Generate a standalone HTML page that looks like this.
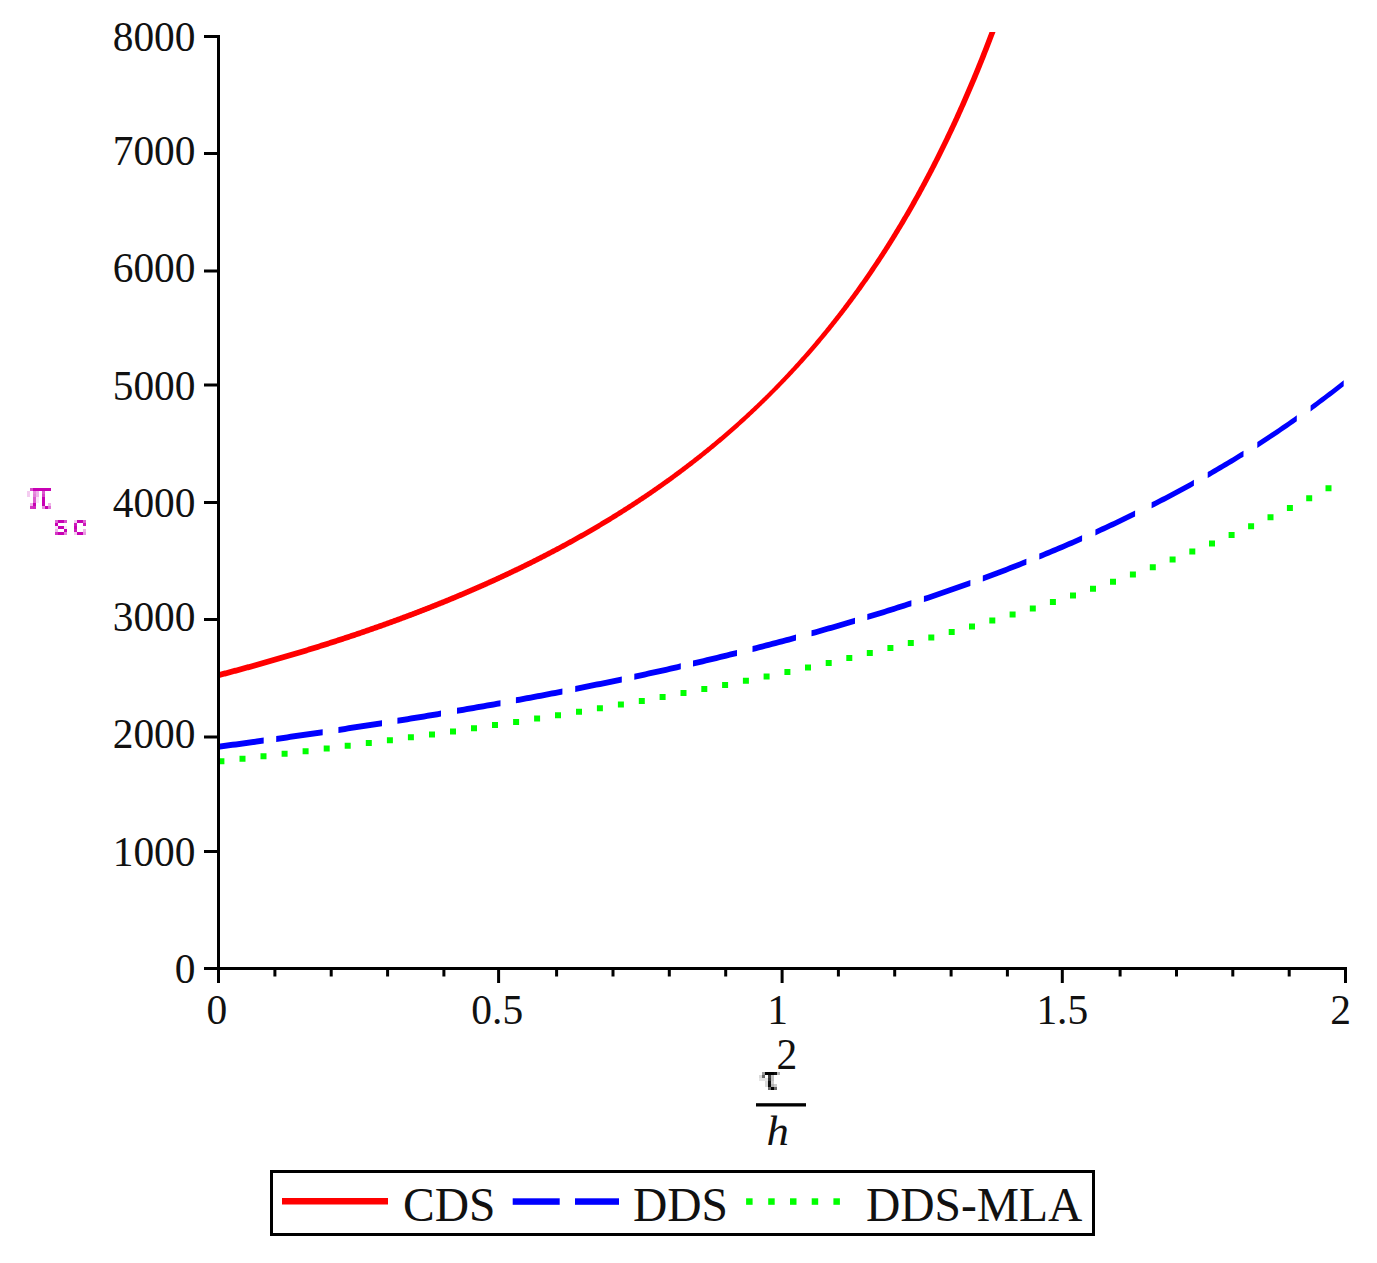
<!DOCTYPE html>
<html><head><meta charset="utf-8"><title>plot</title>
<style>html,body{margin:0;padding:0;background:#fff;width:1377px;height:1263px;overflow:hidden}svg{display:block}</style>
</head><body>
<svg width="1377" height="1263" viewBox="0 0 1377 1263">
<rect x="0" y="0" width="1377" height="1263" fill="#fff"/>
<path d="M218.50,672.19 L219.36,671.96 L220.22,671.74 L221.08,671.51 L221.94,671.29 L222.80,671.06 L223.67,670.83 L224.53,670.61 L225.39,670.38 L226.25,670.15 L227.11,669.93 L227.97,669.70 L228.83,669.47 L229.69,669.24 L230.55,669.01 L231.41,668.78 L232.28,668.56 L233.14,668.33 L234.00,668.10 L234.86,667.86 L235.72,667.63 L236.58,667.40 L237.44,667.17 L238.30,666.94 L239.16,666.71 L240.02,666.47 L240.88,666.24 L241.75,666.01 L242.61,665.77 L243.47,665.54 L244.33,665.30 L245.19,665.07 L246.05,664.83 L246.91,664.60 L247.77,664.36 L248.63,664.13 L249.49,663.89 L250.35,663.65 L251.22,663.42 L252.08,663.18 L252.94,662.94 L253.80,662.70 L254.66,662.46 L255.52,662.22 L256.38,661.98 L257.24,661.74 L258.10,661.50 L258.96,661.26 L259.83,661.02 L260.69,660.78 L261.55,660.54 L262.41,660.29 L263.27,660.05 L264.13,659.81 L264.99,659.56 L265.85,659.32 L266.71,659.08 L267.57,658.83 L268.43,658.59 L269.30,658.34 L270.16,658.09 L271.02,657.85 L271.88,657.60 L272.74,657.35 L273.60,657.11 L274.46,656.86 L275.32,656.61 L276.18,656.36 L277.04,656.11 L277.90,655.86 L278.77,655.61 L279.63,655.36 L280.49,655.11 L281.35,654.86 L282.21,654.61 L283.07,654.36 L283.93,654.11 L284.79,653.85 L285.65,653.60 L286.51,653.35 L287.38,653.09 L288.24,652.84 L289.10,652.58 L289.96,652.33 L290.82,652.07 L291.68,651.82 L292.54,651.56 L293.40,651.30 L294.26,651.04 L295.12,650.79 L295.98,650.53 L296.85,650.27 L297.71,650.01 L298.57,649.75 L299.43,649.49 L300.29,649.23 L301.15,648.97 L302.01,648.71 L302.87,648.45 L303.73,648.19 L304.59,647.92 L305.46,647.66 L306.32,647.40 L307.18,647.13 L308.04,646.87 L308.90,646.60 L309.76,646.34 L310.62,646.07 L311.48,645.81 L312.34,645.54 L313.20,645.27 L314.06,645.01 L314.93,644.74 L315.79,644.47 L316.65,644.20 L317.51,643.93 L318.37,643.66 L319.23,643.39 L320.09,643.12 L320.95,642.85 L321.81,642.58 L322.67,642.31 L323.53,642.04 L324.40,641.76 L325.26,641.49 L326.12,641.22 L326.98,640.94 L327.84,640.67 L328.70,640.39 L329.56,640.12 L330.42,639.84 L331.28,639.57 L332.14,639.29 L333.01,639.01 L333.87,638.73 L334.73,638.46 L335.59,638.18 L336.45,637.90 L337.31,637.62 L338.17,637.34 L339.03,637.06 L339.89,636.78 L340.75,636.49 L341.61,636.21 L342.48,635.93 L343.34,635.65 L344.20,635.36 L345.06,635.08 L345.92,634.79 L346.78,634.51 L347.64,634.22 L348.50,633.94 L349.36,633.65 L350.22,633.36 L351.08,633.08 L351.95,632.79 L352.81,632.50 L353.67,632.21 L354.53,631.92 L355.39,631.63 L356.25,631.34 L357.11,631.05 L357.97,630.76 L358.83,630.46 L359.69,630.17 L360.56,629.88 L361.42,629.59 L362.28,629.29 L363.14,629.00 L364.00,628.70 L364.86,628.41 L365.72,628.11 L366.58,627.81 L367.44,627.52 L368.30,627.22 L369.16,626.92 L370.03,626.62 L370.89,626.32 L371.75,626.02 L372.61,625.72 L373.47,625.42 L374.33,625.12 L375.19,624.82 L376.05,624.51 L376.91,624.21 L377.77,623.91 L378.64,623.60 L379.50,623.30 L380.36,622.99 L381.22,622.69 L382.08,622.38 L382.94,622.07 L383.80,621.77 L384.66,621.46 L385.52,621.15 L386.38,620.84 L387.24,620.53 L388.11,620.22 L388.97,619.91 L389.83,619.60 L390.69,619.29 L391.55,618.97 L392.41,618.66 L393.27,618.35 L394.13,618.03 L394.99,617.72 L395.85,617.40 L396.71,617.09 L397.58,616.77 L398.44,616.45 L399.30,616.14 L400.16,615.82 L401.02,615.50 L401.88,615.18 L402.74,614.86 L403.60,614.54 L404.46,614.22 L405.32,613.90 L406.19,613.57 L407.05,613.25 L407.91,612.93 L408.77,612.60 L409.63,612.28 L410.49,611.95 L411.35,611.63 L412.21,611.30 L413.07,610.97 L413.93,610.65 L414.79,610.32 L415.66,609.99 L416.52,609.66 L417.38,609.33 L418.24,609.00 L419.10,608.67 L419.96,608.34 L420.82,608.00 L421.68,607.67 L422.54,607.34 L423.40,607.00 L424.26,606.67 L425.13,606.33 L425.99,606.00 L426.85,605.66 L427.71,605.32 L428.57,604.98 L429.43,604.64 L430.29,604.30 L431.15,603.96 L432.01,603.62 L432.87,603.28 L433.74,602.94 L434.60,602.60 L435.46,602.25 L436.32,601.91 L437.18,601.57 L438.04,601.22 L438.90,600.87 L439.76,600.53 L440.62,600.18 L441.48,599.83 L442.34,599.48 L443.21,599.13 L444.07,598.78 L444.93,598.43 L445.79,598.08 L446.65,597.73 L447.51,597.38 L448.37,597.02 L449.23,596.67 L450.09,596.32 L450.95,595.96 L451.82,595.60 L452.68,595.25 L453.54,594.89 L454.40,594.53 L455.26,594.17 L456.12,593.81 L456.98,593.45 L457.84,593.09 L458.70,592.73 L459.56,592.37 L460.42,592.01 L461.29,591.64 L462.15,591.28 L463.01,590.91 L463.87,590.55 L464.73,590.18 L465.59,589.81 L466.45,589.45 L467.31,589.08 L468.17,588.71 L469.03,588.34 L469.89,587.97 L470.76,587.60 L471.62,587.22 L472.48,586.85 L473.34,586.48 L474.20,586.10 L475.06,585.73 L475.92,585.35 L476.78,584.97 L477.64,584.60 L478.50,584.22 L479.37,583.84 L480.23,583.46 L481.09,583.08 L481.95,582.70 L482.81,582.31 L483.67,581.93 L484.53,581.55 L485.39,581.16 L486.25,580.78 L487.11,580.39 L487.97,580.01 L488.84,579.62 L489.70,579.23 L490.56,578.84 L491.42,578.45 L492.28,578.06 L493.14,577.67 L494.00,577.28 L494.86,576.89 L495.72,576.49 L496.58,576.10 L497.44,575.70 L498.31,575.31 L499.17,574.91 L500.03,574.51 L500.89,574.11 L501.75,573.71 L502.61,573.31 L503.47,572.91 L504.33,572.51 L505.19,572.11 L506.05,571.70 L506.92,571.30 L507.78,570.89 L508.64,570.49 L509.50,570.08 L510.36,569.67 L511.22,569.26 L512.08,568.86 L512.94,568.45 L513.80,568.03 L514.66,567.62 L515.52,567.21 L516.39,566.80 L517.25,566.38 L518.11,565.97 L518.97,565.55 L519.83,565.13 L520.69,564.72 L521.55,564.30 L522.41,563.88 L523.27,563.46 L524.13,563.03 L525.00,562.61 L525.86,562.19 L526.72,561.77 L527.58,561.34 L528.44,560.91 L529.30,560.49 L530.16,560.06 L531.02,559.63 L531.88,559.20 L532.74,558.77 L533.60,558.34 L534.47,557.91 L535.33,557.47 L536.19,557.04 L537.05,556.61 L537.91,556.17 L538.77,555.73 L539.63,555.29 L540.49,554.86 L541.35,554.42 L542.21,553.98 L543.07,553.53 L543.94,553.09 L544.80,552.65 L545.66,552.20 L546.52,551.76 L547.38,551.31 L548.24,550.86 L549.10,550.42 L549.96,549.97 L550.82,549.52 L551.68,549.07 L552.55,548.61 L553.41,548.16 L554.27,547.71 L555.13,547.25 L555.99,546.80 L556.85,546.34 L557.71,545.88 L558.57,545.42 L559.43,544.96 L560.29,544.50 L561.15,544.04 L562.02,543.57 L562.88,543.11 L563.74,542.64 L564.60,542.18 L565.46,541.71 L566.32,541.24 L567.18,540.77 L568.04,540.30 L568.90,539.83 L569.76,539.36 L570.62,538.89 L571.49,538.41 L572.35,537.94 L573.21,537.46 L574.07,536.98 L574.93,536.50 L575.79,536.02 L576.65,535.54 L577.51,535.06 L578.37,534.58 L579.23,534.09 L580.10,533.61 L580.96,533.12 L581.82,532.63 L582.68,532.14 L583.54,531.66 L584.40,531.16 L585.26,530.67 L586.12,530.18 L586.98,529.69 L587.84,529.19 L588.70,528.69 L589.57,528.20 L590.43,527.70 L591.29,527.20 L592.15,526.70 L593.01,526.19 L593.87,525.69 L594.73,525.19 L595.59,524.68 L596.45,524.17 L597.31,523.67 L598.18,523.16 L599.04,522.65 L599.90,522.14 L600.76,521.62 L601.62,521.11 L602.48,520.60 L603.34,520.08 L604.20,519.56 L605.06,519.04 L605.92,518.52 L606.78,518.00 L607.65,517.48 L608.51,516.96 L609.37,516.43 L610.23,515.91 L611.09,515.38 L611.95,514.85 L612.81,514.32 L613.67,513.79 L614.53,513.26 L615.39,512.73 L616.25,512.19 L617.12,511.65 L617.98,511.12 L618.84,510.58 L619.70,510.04 L620.56,509.50 L621.42,508.96 L622.28,508.41 L623.14,507.87 L624.00,507.32 L624.86,506.77 L625.73,506.23 L626.59,505.68 L627.45,505.12 L628.31,504.57 L629.17,504.02 L630.03,503.46 L630.89,502.91 L631.75,502.35 L632.61,501.79 L633.47,501.23 L634.33,500.67 L635.20,500.10 L636.06,499.54 L636.92,498.97 L637.78,498.40 L638.64,497.83 L639.50,497.26 L640.36,496.69 L641.22,496.12 L642.08,495.54 L642.94,494.97 L643.80,494.39 L644.67,493.81 L645.53,493.23 L646.39,492.65 L647.25,492.07 L648.11,491.48 L648.97,490.90 L649.83,490.31 L650.69,489.72 L651.55,489.13 L652.41,488.54 L653.28,487.95 L654.14,487.35 L655.00,486.75 L655.86,486.16 L656.72,485.56 L657.58,484.96 L658.44,484.35 L659.30,483.75 L660.16,483.15 L661.02,482.54 L661.88,481.93 L662.75,481.32 L663.61,480.71 L664.47,480.10 L665.33,479.48 L666.19,478.87 L667.05,478.25 L667.91,477.63 L668.77,477.01 L669.63,476.39 L670.49,475.76 L671.36,475.14 L672.22,474.51 L673.08,473.88 L673.94,473.25 L674.80,472.62 L675.66,471.99 L676.52,471.35 L677.38,470.71 L678.24,470.08 L679.10,469.44 L679.96,468.79 L680.83,468.15 L681.69,467.50 L682.55,466.86 L683.41,466.21 L684.27,465.56 L685.13,464.91 L685.99,464.25 L686.85,463.60 L687.71,462.94 L688.57,462.28 L689.43,461.62 L690.30,460.96 L691.16,460.30 L692.02,459.63 L692.88,458.96 L693.74,458.29 L694.60,457.62 L695.46,456.95 L696.32,456.28 L697.18,455.60 L698.04,454.92 L698.91,454.24 L699.77,453.56 L700.63,452.88 L701.49,452.19 L702.35,451.50 L703.21,450.82 L704.07,450.12 L704.93,449.43 L705.79,448.74 L706.65,448.04 L707.51,447.34 L708.38,446.64 L709.24,445.94 L710.10,445.24 L710.96,444.53 L711.82,443.82 L712.68,443.11 L713.54,442.40 L714.40,441.69 L715.26,440.97 L716.12,440.25 L716.98,439.53 L717.85,438.81 L718.71,438.09 L719.57,437.36 L720.43,436.64 L721.29,435.91 L722.15,435.18 L723.01,434.44 L723.87,433.71 L724.73,432.97 L725.59,432.23 L726.46,431.49 L727.32,430.74 L728.18,430.00 L729.04,429.25 L729.90,428.50 L730.76,427.75 L731.62,426.99 L732.48,426.24 L733.34,425.48 L734.20,424.72 L735.06,423.96 L735.93,423.19 L736.79,422.42 L737.65,421.65 L738.51,420.88 L739.37,420.11 L740.23,419.33 L741.09,418.55 L741.95,417.77 L742.81,416.99 L743.67,416.21 L744.53,415.42 L745.40,414.63 L746.26,413.84 L747.12,413.05 L747.98,412.25 L748.84,411.45 L749.70,410.65 L750.56,409.85 L751.42,409.04 L752.28,408.23 L753.14,407.42 L754.01,406.61 L754.87,405.80 L755.73,404.98 L756.59,404.16 L757.45,403.34 L758.31,402.51 L759.17,401.69 L760.03,400.86 L760.89,400.03 L761.75,399.19 L762.61,398.36 L763.48,397.52 L764.34,396.68 L765.20,395.83 L766.06,394.99 L766.92,394.14 L767.78,393.29 L768.64,392.43 L769.50,391.57 L770.36,390.72 L768.22,392.85 L769.09,391.99 L769.95,391.12 L770.81,390.25 L771.67,389.38 L772.53,388.51 L773.39,387.63 L774.25,386.75 L775.11,385.87 L775.97,384.98 L776.83,384.09 L777.69,383.20 L778.56,382.31 L779.42,381.41 L780.28,380.51 L781.14,379.61 L782.00,378.71 L782.86,377.80 L783.72,376.89 L784.58,375.97 L785.44,375.06 L786.30,374.14 L787.16,373.22 L788.03,372.29 L788.89,371.37 L789.75,370.44 L790.61,369.50 L791.47,368.57 L792.33,367.63 L793.19,366.69 L794.05,365.74 L794.91,364.79 L795.77,363.84 L796.64,362.89 L797.50,361.93 L798.36,360.97 L799.22,360.01 L800.08,359.04 L800.94,358.08 L801.80,357.10 L802.66,356.13 L803.52,355.15 L804.38,354.17 L805.24,353.18 L806.11,352.20 L806.97,351.21 L807.83,350.21 L808.69,349.21 L809.55,348.21 L810.41,347.21 L811.27,346.20 L812.13,345.19 L812.99,344.18 L813.85,343.16 L814.71,342.14 L815.58,341.12 L816.44,340.09 L817.30,339.06 L818.16,338.03 L819.02,336.99 L819.88,335.95 L820.74,334.91 L821.60,333.86 L822.46,332.81 L823.32,331.75 L824.19,330.70 L825.05,329.64 L825.91,328.57 L826.77,327.50 L827.63,326.43 L828.49,325.35 L829.35,324.28 L830.21,323.19 L831.07,322.11 L831.93,321.02 L832.79,319.92 L833.66,318.82 L834.52,317.72 L835.38,316.62 L836.24,315.51 L837.10,314.40 L837.96,313.28 L838.82,312.16 L839.68,311.04 L840.54,309.91 L841.40,308.78 L842.27,307.64 L843.13,306.50 L843.99,305.36 L844.85,304.21 L845.71,303.06 L846.57,301.91 L847.43,300.75 L848.29,299.58 L849.15,298.42 L850.01,297.24 L850.87,296.07 L851.74,294.89 L852.60,293.70 L853.46,292.52 L854.32,291.32 L855.18,290.13 L856.04,288.93 L856.90,287.72 L857.76,286.51 L858.62,285.30 L859.48,284.08 L860.34,282.86 L861.21,281.63 L862.07,280.40 L862.93,279.17 L863.79,277.93 L864.65,276.68 L865.51,275.43 L866.37,274.18 L867.23,272.92 L868.09,271.66 L868.95,270.39 L869.82,269.12 L870.68,267.84 L871.54,266.56 L872.40,265.28 L873.26,263.99 L874.12,262.69 L874.98,261.39 L875.84,260.09 L876.70,258.78 L877.56,257.46 L878.42,256.14 L879.29,254.82 L880.15,253.49 L881.01,252.16 L881.87,250.82 L882.73,249.47 L883.59,248.13 L884.45,246.77 L885.31,245.41 L886.17,244.05 L887.03,242.68 L887.89,241.30 L888.76,239.92 L889.62,238.54 L890.48,237.15 L891.34,235.75 L892.20,234.35 L893.06,232.94 L893.92,231.53 L894.78,230.12 L895.64,228.69 L896.50,227.26 L897.37,225.83 L898.23,224.39 L899.09,222.95 L899.95,221.50 L900.81,220.04 L901.67,218.58 L902.53,217.11 L903.39,215.64 L904.25,214.16 L905.11,212.67 L905.97,211.18 L906.84,209.68 L907.70,208.18 L908.56,206.67 L909.42,205.16 L910.28,203.64 L911.14,202.11 L912.00,200.58 L912.86,199.04 L913.72,197.49 L914.58,195.94 L915.45,194.39 L916.31,192.82 L917.17,191.25 L918.03,189.67 L918.89,188.09 L919.75,186.50 L920.61,184.91 L921.47,183.30 L922.33,181.69 L923.19,180.08 L924.05,178.46 L924.92,176.83 L925.78,175.19 L926.64,173.55 L927.50,171.90 L928.36,170.24 L929.22,168.58 L930.08,166.91 L930.94,165.23 L931.80,163.55 L932.66,161.86 L933.52,160.16 L934.39,158.45 L935.25,156.74 L936.11,155.02 L936.97,153.29 L937.83,151.56 L938.69,149.82 L939.55,148.07 L940.41,146.31 L941.27,144.55 L942.13,142.77 L943.00,140.99 L943.86,139.21 L944.72,137.41 L945.58,135.61 L946.44,133.80 L947.30,131.98 L948.16,130.15 L949.02,128.32 L949.88,126.48 L950.74,124.63 L951.60,122.77 L952.47,120.90 L953.33,119.02 L954.19,117.14 L955.05,115.25 L955.91,113.35 L956.77,111.44 L957.63,109.52 L958.49,107.60 L959.35,105.66 L960.21,103.72 L961.07,101.77 L961.94,99.80 L962.80,97.83 L963.66,95.86 L964.52,93.87 L965.38,91.87 L966.24,89.86 L967.10,87.85 L967.96,85.82 L968.82,83.79 L969.68,81.75 L970.55,79.69 L971.41,77.63 L972.27,75.56 L973.13,73.48 L973.99,71.39 L974.85,69.29 L975.71,67.18 L976.57,65.05 L977.43,62.92 L978.29,60.78 L979.15,58.63 L980.02,56.47 L980.88,54.30 L981.74,52.12 L982.60,49.92 L983.46,47.72 L984.32,45.51 L985.18,43.28 L986.04,41.05 L986.90,38.80 L987.76,36.55 L988.63,34.28 L989.49,32.00 L995.49,32.00 L994.63,34.28 L993.76,36.55 L992.90,38.80 L992.04,41.05 L991.18,43.28 L990.32,45.51 L989.46,47.72 L988.60,49.92 L987.74,52.12 L986.88,54.30 L986.02,56.47 L985.15,58.63 L984.29,60.78 L983.43,62.92 L982.57,65.05 L981.71,67.18 L980.85,69.29 L979.99,71.39 L979.13,73.48 L978.27,75.56 L977.41,77.63 L976.55,79.69 L975.68,81.75 L974.82,83.79 L973.96,85.82 L973.10,87.85 L972.24,89.86 L971.38,91.87 L970.52,93.87 L969.66,95.86 L968.80,97.83 L967.94,99.80 L967.07,101.77 L966.21,103.72 L965.35,105.66 L964.49,107.60 L963.63,109.52 L962.77,111.44 L961.91,113.35 L961.05,115.25 L960.19,117.14 L959.33,119.02 L958.47,120.90 L957.60,122.77 L956.74,124.63 L955.88,126.48 L955.02,128.32 L954.16,130.15 L953.30,131.98 L952.44,133.80 L951.58,135.61 L950.72,137.41 L949.86,139.21 L949.00,140.99 L948.13,142.77 L947.27,144.55 L946.41,146.31 L945.55,148.07 L944.69,149.82 L943.83,151.56 L942.97,153.29 L942.11,155.02 L941.25,156.74 L940.39,158.45 L939.52,160.16 L938.66,161.86 L937.80,163.55 L936.94,165.23 L936.08,166.91 L935.22,168.58 L934.36,170.24 L933.50,171.90 L932.64,173.55 L931.78,175.19 L930.92,176.83 L930.05,178.46 L929.19,180.08 L928.33,181.69 L927.47,183.30 L926.61,184.91 L925.75,186.50 L924.89,188.09 L924.03,189.67 L923.17,191.25 L922.31,192.82 L921.45,194.39 L920.58,195.94 L919.72,197.49 L918.86,199.04 L918.00,200.58 L917.14,202.11 L916.28,203.64 L915.42,205.16 L914.56,206.67 L913.70,208.18 L912.84,209.68 L911.97,211.18 L911.11,212.67 L910.25,214.16 L909.39,215.64 L908.53,217.11 L907.67,218.58 L906.81,220.04 L905.95,221.50 L905.09,222.95 L904.23,224.39 L903.37,225.83 L902.50,227.26 L901.64,228.69 L900.78,230.12 L899.92,231.53 L899.06,232.94 L898.20,234.35 L897.34,235.75 L896.48,237.15 L895.62,238.54 L894.76,239.92 L893.89,241.30 L893.03,242.68 L892.17,244.05 L891.31,245.41 L890.45,246.77 L889.59,248.13 L888.73,249.47 L887.87,250.82 L887.01,252.16 L886.15,253.49 L885.29,254.82 L884.42,256.14 L883.56,257.46 L882.70,258.78 L881.84,260.09 L880.98,261.39 L880.12,262.69 L879.26,263.99 L878.40,265.28 L877.54,266.56 L876.68,267.84 L875.82,269.12 L874.95,270.39 L874.09,271.66 L873.23,272.92 L872.37,274.18 L871.51,275.43 L870.65,276.68 L869.79,277.93 L868.93,279.17 L868.07,280.40 L867.21,281.63 L866.34,282.86 L865.48,284.08 L864.62,285.30 L863.76,286.51 L862.90,287.72 L862.04,288.93 L861.18,290.13 L860.32,291.32 L859.46,292.52 L858.60,293.70 L857.74,294.89 L856.87,296.07 L856.01,297.24 L855.15,298.42 L854.29,299.58 L853.43,300.75 L852.57,301.91 L851.71,303.06 L850.85,304.21 L849.99,305.36 L849.13,306.50 L848.27,307.64 L847.40,308.78 L846.54,309.91 L845.68,311.04 L844.82,312.16 L843.96,313.28 L843.10,314.40 L842.24,315.51 L841.38,316.62 L840.52,317.72 L839.66,318.82 L838.79,319.92 L837.93,321.02 L837.07,322.11 L836.21,323.19 L835.35,324.28 L834.49,325.35 L833.63,326.43 L832.77,327.50 L831.91,328.57 L831.05,329.64 L830.19,330.70 L829.32,331.75 L828.46,332.81 L827.60,333.86 L826.74,334.91 L825.88,335.95 L825.02,336.99 L824.16,338.03 L823.30,339.06 L822.44,340.09 L821.58,341.12 L820.71,342.14 L819.85,343.16 L818.99,344.18 L818.13,345.19 L817.27,346.20 L816.41,347.21 L815.55,348.21 L814.69,349.21 L813.83,350.21 L812.97,351.21 L812.11,352.20 L811.24,353.18 L810.38,354.17 L809.52,355.15 L808.66,356.13 L807.80,357.10 L806.94,358.08 L806.08,359.04 L805.22,360.01 L804.36,360.97 L803.50,361.93 L802.64,362.89 L801.77,363.84 L800.91,364.79 L800.05,365.74 L799.19,366.69 L798.33,367.63 L797.47,368.57 L796.61,369.50 L795.75,370.44 L794.89,371.37 L794.03,372.29 L793.16,373.22 L792.30,374.14 L791.44,375.06 L790.58,375.97 L789.72,376.89 L788.86,377.80 L788.00,378.71 L787.14,379.61 L786.28,380.51 L785.42,381.41 L784.56,382.31 L783.69,383.20 L782.83,384.09 L781.97,384.98 L781.11,385.87 L780.25,386.75 L779.39,387.63 L778.53,388.51 L777.67,389.38 L776.81,390.25 L775.95,391.12 L775.09,391.99 L774.22,392.85 L770.36,396.72 L769.50,397.57 L768.64,398.43 L767.78,399.29 L766.92,400.14 L766.06,400.99 L765.20,401.83 L764.34,402.68 L763.48,403.52 L762.61,404.36 L761.75,405.19 L760.89,406.03 L760.03,406.86 L759.17,407.69 L758.31,408.51 L757.45,409.34 L756.59,410.16 L755.73,410.98 L754.87,411.80 L754.01,412.61 L753.14,413.42 L752.28,414.23 L751.42,415.04 L750.56,415.85 L749.70,416.65 L748.84,417.45 L747.98,418.25 L747.12,419.05 L746.26,419.84 L745.40,420.63 L744.53,421.42 L743.67,422.21 L742.81,422.99 L741.95,423.77 L741.09,424.55 L740.23,425.33 L739.37,426.11 L738.51,426.88 L737.65,427.65 L736.79,428.42 L735.93,429.19 L735.06,429.96 L734.20,430.72 L733.34,431.48 L732.48,432.24 L731.62,432.99 L730.76,433.75 L729.90,434.50 L729.04,435.25 L728.18,436.00 L727.32,436.74 L726.46,437.49 L725.59,438.23 L724.73,438.97 L723.87,439.71 L723.01,440.44 L722.15,441.18 L721.29,441.91 L720.43,442.64 L719.57,443.36 L718.71,444.09 L717.85,444.81 L716.98,445.53 L716.12,446.25 L715.26,446.97 L714.40,447.69 L713.54,448.40 L712.68,449.11 L711.82,449.82 L710.96,450.53 L710.10,451.24 L709.24,451.94 L708.38,452.64 L707.51,453.34 L706.65,454.04 L705.79,454.74 L704.93,455.43 L704.07,456.12 L703.21,456.82 L702.35,457.50 L701.49,458.19 L700.63,458.88 L699.77,459.56 L698.91,460.24 L698.04,460.92 L697.18,461.60 L696.32,462.28 L695.46,462.95 L694.60,463.62 L693.74,464.29 L692.88,464.96 L692.02,465.63 L691.16,466.30 L690.30,466.96 L689.43,467.62 L688.57,468.28 L687.71,468.94 L686.85,469.60 L685.99,470.25 L685.13,470.91 L684.27,471.56 L683.41,472.21 L682.55,472.86 L681.69,473.50 L680.83,474.15 L679.96,474.79 L679.10,475.44 L678.24,476.08 L677.38,476.71 L676.52,477.35 L675.66,477.99 L674.80,478.62 L673.94,479.25 L673.08,479.88 L672.22,480.51 L671.36,481.14 L670.49,481.76 L669.63,482.39 L668.77,483.01 L667.91,483.63 L667.05,484.25 L666.19,484.87 L665.33,485.48 L664.47,486.10 L663.61,486.71 L662.75,487.32 L661.88,487.93 L661.02,488.54 L660.16,489.15 L659.30,489.75 L658.44,490.35 L657.58,490.96 L656.72,491.56 L655.86,492.16 L655.00,492.75 L654.14,493.35 L653.28,493.95 L652.41,494.54 L651.55,495.13 L650.69,495.72 L649.83,496.31 L648.97,496.90 L648.11,497.48 L647.25,498.07 L646.39,498.65 L645.53,499.23 L644.67,499.81 L643.80,500.39 L642.94,500.97 L642.08,501.54 L641.22,502.12 L640.36,502.69 L639.50,503.26 L638.64,503.83 L637.78,504.40 L636.92,504.97 L636.06,505.54 L635.20,506.10 L634.33,506.67 L633.47,507.23 L632.61,507.79 L631.75,508.35 L630.89,508.91 L630.03,509.46 L629.17,510.02 L628.31,510.57 L627.45,511.12 L626.59,511.68 L625.73,512.23 L624.86,512.77 L624.00,513.32 L623.14,513.87 L622.28,514.41 L621.42,514.96 L620.56,515.50 L619.70,516.04 L618.84,516.58 L617.98,517.12 L617.12,517.65 L616.25,518.19 L615.39,518.73 L614.53,519.26 L613.67,519.79 L612.81,520.32 L611.95,520.85 L611.09,521.38 L610.23,521.91 L609.37,522.43 L608.51,522.96 L607.65,523.48 L606.78,524.00 L605.92,524.52 L605.06,525.04 L604.20,525.56 L603.34,526.08 L602.48,526.60 L601.62,527.11 L600.76,527.62 L599.90,528.14 L599.04,528.65 L598.18,529.16 L597.31,529.67 L596.45,530.17 L595.59,530.68 L594.73,531.19 L593.87,531.69 L593.01,532.19 L592.15,532.70 L591.29,533.20 L590.43,533.70 L589.57,534.20 L588.70,534.69 L587.84,535.19 L586.98,535.69 L586.12,536.18 L585.26,536.67 L584.40,537.16 L583.54,537.66 L582.68,538.14 L581.82,538.63 L580.96,539.12 L580.10,539.61 L579.23,540.09 L578.37,540.58 L577.51,541.06 L576.65,541.54 L575.79,542.02 L574.93,542.50 L574.07,542.98 L573.21,543.46 L572.35,543.94 L571.49,544.41 L570.62,544.89 L569.76,545.36 L568.90,545.83 L568.04,546.30 L567.18,546.77 L566.32,547.24 L565.46,547.71 L564.60,548.18 L563.74,548.64 L562.88,549.11 L562.02,549.57 L561.15,550.04 L560.29,550.50 L559.43,550.96 L558.57,551.42 L557.71,551.88 L556.85,552.34 L555.99,552.80 L555.13,553.25 L554.27,553.71 L553.41,554.16 L552.55,554.61 L551.68,555.07 L550.82,555.52 L549.96,555.97 L549.10,556.42 L548.24,556.86 L547.38,557.31 L546.52,557.76 L545.66,558.20 L544.80,558.65 L543.94,559.09 L543.07,559.53 L542.21,559.98 L541.35,560.42 L540.49,560.86 L539.63,561.29 L538.77,561.73 L537.91,562.17 L537.05,562.61 L536.19,563.04 L535.33,563.47 L534.47,563.91 L533.60,564.34 L532.74,564.77 L531.88,565.20 L531.02,565.63 L530.16,566.06 L529.30,566.49 L528.44,566.91 L527.58,567.34 L526.72,567.77 L525.86,568.19 L525.00,568.61 L524.13,569.03 L523.27,569.46 L522.41,569.88 L521.55,570.30 L520.69,570.72 L519.83,571.13 L518.97,571.55 L518.11,571.97 L517.25,572.38 L516.39,572.80 L515.52,573.21 L514.66,573.62 L513.80,574.03 L512.94,574.45 L512.08,574.86 L511.22,575.26 L510.36,575.67 L509.50,576.08 L508.64,576.49 L507.78,576.89 L506.92,577.30 L506.05,577.70 L505.19,578.11 L504.33,578.51 L503.47,578.91 L502.61,579.31 L501.75,579.71 L500.89,580.11 L500.03,580.51 L499.17,580.91 L498.31,581.31 L497.44,581.70 L496.58,582.10 L495.72,582.49 L494.86,582.89 L494.00,583.28 L493.14,583.67 L492.28,584.06 L491.42,584.45 L490.56,584.84 L489.70,585.23 L488.84,585.62 L487.97,586.01 L487.11,586.39 L486.25,586.78 L485.39,587.16 L484.53,587.55 L483.67,587.93 L482.81,588.31 L481.95,588.70 L481.09,589.08 L480.23,589.46 L479.37,589.84 L478.50,590.22 L477.64,590.60 L476.78,590.97 L475.92,591.35 L475.06,591.73 L474.20,592.10 L473.34,592.48 L472.48,592.85 L471.62,593.22 L470.76,593.60 L469.89,593.97 L469.03,594.34 L468.17,594.71 L467.31,595.08 L466.45,595.45 L465.59,595.81 L464.73,596.18 L463.87,596.55 L463.01,596.91 L462.15,597.28 L461.29,597.64 L460.42,598.01 L459.56,598.37 L458.70,598.73 L457.84,599.09 L456.98,599.45 L456.12,599.81 L455.26,600.17 L454.40,600.53 L453.54,600.89 L452.68,601.25 L451.82,601.60 L450.95,601.96 L450.09,602.32 L449.23,602.67 L448.37,603.02 L447.51,603.38 L446.65,603.73 L445.79,604.08 L444.93,604.43 L444.07,604.78 L443.21,605.13 L442.34,605.48 L441.48,605.83 L440.62,606.18 L439.76,606.53 L438.90,606.87 L438.04,607.22 L437.18,607.57 L436.32,607.91 L435.46,608.25 L434.60,608.60 L433.74,608.94 L432.87,609.28 L432.01,609.62 L431.15,609.96 L430.29,610.30 L429.43,610.64 L428.57,610.98 L427.71,611.32 L426.85,611.66 L425.99,612.00 L425.13,612.33 L424.26,612.67 L423.40,613.00 L422.54,613.34 L421.68,613.67 L420.82,614.00 L419.96,614.34 L419.10,614.67 L418.24,615.00 L417.38,615.33 L416.52,615.66 L415.66,615.99 L414.79,616.32 L413.93,616.65 L413.07,616.97 L412.21,617.30 L411.35,617.63 L410.49,617.95 L409.63,618.28 L408.77,618.60 L407.91,618.93 L407.05,619.25 L406.19,619.57 L405.32,619.90 L404.46,620.22 L403.60,620.54 L402.74,620.86 L401.88,621.18 L401.02,621.50 L400.16,621.82 L399.30,622.14 L398.44,622.45 L397.58,622.77 L396.71,623.09 L395.85,623.40 L394.99,623.72 L394.13,624.03 L393.27,624.35 L392.41,624.66 L391.55,624.97 L390.69,625.29 L389.83,625.60 L388.97,625.91 L388.11,626.22 L387.24,626.53 L386.38,626.84 L385.52,627.15 L384.66,627.46 L383.80,627.77 L382.94,628.07 L382.08,628.38 L381.22,628.69 L380.36,628.99 L379.50,629.30 L378.64,629.60 L377.77,629.91 L376.91,630.21 L376.05,630.51 L375.19,630.82 L374.33,631.12 L373.47,631.42 L372.61,631.72 L371.75,632.02 L370.89,632.32 L370.03,632.62 L369.16,632.92 L368.30,633.22 L367.44,633.52 L366.58,633.81 L365.72,634.11 L364.86,634.41 L364.00,634.70 L363.14,635.00 L362.28,635.29 L361.42,635.59 L360.56,635.88 L359.69,636.17 L358.83,636.46 L357.97,636.76 L357.11,637.05 L356.25,637.34 L355.39,637.63 L354.53,637.92 L353.67,638.21 L352.81,638.50 L351.95,638.79 L351.08,639.08 L350.22,639.36 L349.36,639.65 L348.50,639.94 L347.64,640.22 L346.78,640.51 L345.92,640.79 L345.06,641.08 L344.20,641.36 L343.34,641.65 L342.48,641.93 L341.61,642.21 L340.75,642.49 L339.89,642.78 L339.03,643.06 L338.17,643.34 L337.31,643.62 L336.45,643.90 L335.59,644.18 L334.73,644.46 L333.87,644.73 L333.01,645.01 L332.14,645.29 L331.28,645.57 L330.42,645.84 L329.56,646.12 L328.70,646.39 L327.84,646.67 L326.98,646.94 L326.12,647.22 L325.26,647.49 L324.40,647.76 L323.53,648.04 L322.67,648.31 L321.81,648.58 L320.95,648.85 L320.09,649.12 L319.23,649.39 L318.37,649.66 L317.51,649.93 L316.65,650.20 L315.79,650.47 L314.93,650.74 L314.06,651.01 L313.20,651.27 L312.34,651.54 L311.48,651.81 L310.62,652.07 L309.76,652.34 L308.90,652.60 L308.04,652.87 L307.18,653.13 L306.32,653.40 L305.46,653.66 L304.59,653.92 L303.73,654.19 L302.87,654.45 L302.01,654.71 L301.15,654.97 L300.29,655.23 L299.43,655.49 L298.57,655.75 L297.71,656.01 L296.85,656.27 L295.98,656.53 L295.12,656.79 L294.26,657.04 L293.40,657.30 L292.54,657.56 L291.68,657.82 L290.82,658.07 L289.96,658.33 L289.10,658.58 L288.24,658.84 L287.38,659.09 L286.51,659.35 L285.65,659.60 L284.79,659.85 L283.93,660.11 L283.07,660.36 L282.21,660.61 L281.35,660.86 L280.49,661.11 L279.63,661.36 L278.77,661.61 L277.90,661.86 L277.04,662.11 L276.18,662.36 L275.32,662.61 L274.46,662.86 L273.60,663.11 L272.74,663.35 L271.88,663.60 L271.02,663.85 L270.16,664.09 L269.30,664.34 L268.43,664.59 L267.57,664.83 L266.71,665.08 L265.85,665.32 L264.99,665.56 L264.13,665.81 L263.27,666.05 L262.41,666.29 L261.55,666.54 L260.69,666.78 L259.83,667.02 L258.96,667.26 L258.10,667.50 L257.24,667.74 L256.38,667.98 L255.52,668.22 L254.66,668.46 L253.80,668.70 L252.94,668.94 L252.08,669.18 L251.22,669.42 L250.35,669.65 L249.49,669.89 L248.63,670.13 L247.77,670.36 L246.91,670.60 L246.05,670.83 L245.19,671.07 L244.33,671.30 L243.47,671.54 L242.61,671.77 L241.75,672.01 L240.88,672.24 L240.02,672.47 L239.16,672.71 L238.30,672.94 L237.44,673.17 L236.58,673.40 L235.72,673.63 L234.86,673.86 L234.00,674.10 L233.14,674.33 L232.28,674.56 L231.41,674.78 L230.55,675.01 L229.69,675.24 L228.83,675.47 L227.97,675.70 L227.11,675.93 L226.25,676.15 L225.39,676.38 L224.53,676.61 L223.67,676.83 L222.80,677.06 L221.94,677.29 L221.08,677.51 L220.22,677.74 L219.36,677.96 L218.50,678.19Z" fill="#f00"/>
<path d="M218.50,743.71 L221.98,743.25 L225.45,742.79 L228.93,742.33 L232.41,741.87 L235.88,741.40 L239.36,740.94 L242.84,740.47 L246.32,740.00 L249.79,739.53 L253.27,739.05 L256.75,738.58 L260.22,738.10 L263.70,737.62 L263.70,743.62 L260.22,744.10 L256.75,744.58 L253.27,745.05 L249.79,745.53 L246.32,746.00 L242.84,746.47 L239.36,746.94 L235.88,747.40 L232.41,747.87 L228.93,748.33 L225.45,748.79 L221.98,749.25 L218.50,749.71Z M276.20,735.89 L279.78,735.39 L283.35,734.88 L286.93,734.38 L290.51,733.87 L294.08,733.36 L297.66,732.85 L301.24,732.34 L304.82,731.82 L308.39,731.31 L311.97,730.79 L315.55,730.27 L319.12,729.74 L322.70,729.22 L322.70,735.22 L319.12,735.74 L315.55,736.27 L311.97,736.79 L308.39,737.31 L304.82,737.82 L301.24,738.34 L297.66,738.85 L294.08,739.36 L290.51,739.87 L286.93,740.38 L283.35,740.88 L279.78,741.39 L276.20,741.89Z M338.40,726.89 L341.75,726.38 L345.11,725.88 L348.46,725.37 L351.82,724.86 L355.17,724.35 L358.52,723.84 L361.88,723.32 L365.23,722.81 L368.58,722.29 L371.94,721.77 L375.29,721.25 L378.65,720.72 L382.00,720.19 L382.00,726.19 L378.65,726.72 L375.29,727.25 L371.94,727.77 L368.58,728.29 L365.23,728.81 L361.88,729.32 L358.52,729.84 L355.17,730.35 L351.82,730.86 L348.46,731.37 L345.11,731.88 L341.75,732.38 L338.40,732.89Z M397.40,717.75 L400.75,717.21 L404.11,716.67 L407.46,716.13 L410.82,715.58 L414.17,715.04 L417.52,714.49 L420.88,713.94 L424.23,713.38 L427.58,712.83 L430.94,712.27 L434.29,711.71 L437.65,711.15 L441.00,710.58 L441.00,716.58 L437.65,717.15 L434.29,717.71 L430.94,718.27 L427.58,718.83 L424.23,719.38 L420.88,719.94 L417.52,720.49 L414.17,721.04 L410.82,721.58 L407.46,722.13 L404.11,722.67 L400.75,723.21 L397.40,723.75Z M457.00,707.86 L460.35,707.28 L463.69,706.70 L467.04,706.12 L470.38,705.54 L473.73,704.95 L477.08,704.36 L480.42,703.77 L483.77,703.18 L487.12,702.58 L490.46,701.98 L493.81,701.38 L497.15,700.78 L500.50,700.18 L500.50,706.18 L497.15,706.78 L493.81,707.38 L490.46,707.98 L487.12,708.58 L483.77,709.18 L480.42,709.77 L477.08,710.36 L473.73,710.95 L470.38,711.54 L467.04,712.12 L463.69,712.70 L460.35,713.28 L457.00,713.86Z M515.90,697.36 L519.48,696.69 L523.05,696.03 L526.63,695.36 L530.21,694.69 L533.78,694.01 L537.36,693.34 L540.94,692.65 L544.52,691.97 L548.09,691.28 L551.67,690.59 L555.25,689.90 L558.82,689.20 L562.40,688.50 L562.40,694.50 L558.82,695.20 L555.25,695.90 L551.67,696.59 L548.09,697.28 L544.52,697.97 L540.94,698.65 L537.36,699.34 L533.78,700.01 L530.21,700.69 L526.63,701.36 L523.05,702.03 L519.48,702.69 L515.90,703.36Z M575.20,685.97 L578.78,685.26 L582.37,684.54 L585.95,683.81 L589.54,683.09 L593.12,682.36 L596.71,681.62 L600.29,680.89 L603.88,680.15 L607.46,679.40 L611.05,678.66 L614.63,677.91 L618.22,677.15 L621.80,676.39 L621.80,682.39 L618.22,683.15 L614.63,683.91 L611.05,684.66 L607.46,685.40 L603.88,686.15 L600.29,686.89 L596.71,687.62 L593.12,688.36 L589.54,689.09 L585.95,689.81 L582.37,690.54 L578.78,691.26 L575.20,691.97Z M634.30,673.72 L637.88,672.95 L641.45,672.17 L645.03,671.39 L648.61,670.61 L652.18,669.82 L655.76,669.03 L659.34,668.23 L662.92,667.43 L666.49,666.63 L670.07,665.82 L673.65,665.01 L677.22,664.19 L680.80,663.37 L680.80,669.37 L677.22,670.19 L673.65,671.01 L670.07,671.82 L666.49,672.63 L662.92,673.43 L659.34,674.23 L655.76,675.03 L652.18,675.82 L648.61,676.61 L645.03,677.39 L641.45,678.17 L637.88,678.95 L634.30,679.72Z M693.00,660.55 L696.38,659.75 L699.77,658.96 L703.15,658.15 L706.54,657.35 L709.92,656.54 L713.31,655.73 L716.69,654.91 L720.08,654.09 L723.46,653.27 L726.85,652.44 L730.23,651.61 L733.62,650.77 L737.00,649.93 L737.00,655.93 L733.62,656.77 L730.23,657.61 L726.85,658.44 L723.46,659.27 L720.08,660.09 L716.69,660.91 L713.31,661.73 L709.92,662.54 L706.54,663.35 L703.15,664.15 L699.77,664.96 L696.38,665.75 L693.00,666.55Z M752.50,646.03 L755.85,645.18 L759.19,644.32 L762.54,643.46 L765.88,642.59 L769.23,641.72 L772.58,640.84 L775.92,639.96 L779.27,639.08 L782.62,638.19 L785.96,637.30 L789.31,636.40 L792.65,635.50 L796.00,634.59 L796.00,640.59 L792.65,641.50 L789.31,642.40 L785.96,643.30 L782.62,644.19 L779.27,645.08 L775.92,645.96 L772.58,646.84 L769.23,647.72 L765.88,648.59 L762.54,649.46 L759.19,650.32 L755.85,651.18 L752.50,652.03Z M811.50,630.33 L814.85,629.40 L818.19,628.46 L821.54,627.52 L824.88,626.57 L828.23,625.62 L831.58,624.66 L834.92,623.70 L838.27,622.73 L841.62,621.76 L844.96,620.78 L848.31,619.79 L851.65,618.81 L855.00,617.81 L855.00,623.81 L851.65,624.81 L848.31,625.79 L844.96,626.78 L841.62,627.76 L838.27,628.73 L834.92,629.70 L831.58,630.66 L828.23,631.62 L824.88,632.57 L821.54,633.52 L818.19,634.46 L814.85,635.40 L811.50,636.33Z M867.30,614.12 L870.69,613.08 L874.08,612.04 L877.48,611.00 L880.87,609.95 L884.26,608.90 L887.65,607.83 L891.05,606.77 L894.44,605.69 L897.83,604.61 L901.22,603.53 L904.62,602.44 L908.01,601.34 L911.40,600.24 L911.40,606.24 L908.01,607.34 L904.62,608.44 L901.22,609.53 L897.83,610.61 L894.44,611.69 L891.05,612.77 L887.65,613.83 L884.26,614.90 L880.87,615.95 L877.48,617.00 L874.08,618.04 L870.69,619.08 L867.30,620.12Z M923.90,596.12 L927.48,594.92 L931.05,593.72 L934.63,592.51 L938.21,591.29 L941.78,590.07 L945.36,588.84 L948.94,587.60 L952.52,586.35 L956.09,585.10 L959.67,583.83 L963.25,582.56 L966.82,581.28 L970.40,580.00 L970.40,586.00 L966.82,587.28 L963.25,588.56 L959.67,589.83 L956.09,591.10 L952.52,592.35 L948.94,593.60 L945.36,594.84 L941.78,596.07 L938.21,597.29 L934.63,598.51 L931.05,599.72 L927.48,600.92 L923.90,602.12Z M982.80,575.48 L986.15,574.24 L989.51,572.99 L992.86,571.73 L996.22,570.47 L999.57,569.20 L1002.92,567.92 L1006.28,566.64 L1009.63,565.34 L1012.98,564.04 L1016.34,562.73 L1019.69,561.42 L1023.05,560.09 L1026.40,558.76 L1026.40,564.76 L1023.05,566.09 L1019.69,567.42 L1016.34,568.73 L1012.98,570.04 L1009.63,571.34 L1006.28,572.64 L1002.92,573.92 L999.57,575.20 L996.22,576.47 L992.86,577.73 L989.51,578.99 L986.15,580.24 L982.80,581.48Z M1039.30,553.55 L1042.59,552.20 L1045.88,550.85 L1049.18,549.48 L1052.47,548.11 L1055.76,546.73 L1059.05,545.34 L1062.35,543.94 L1065.64,542.53 L1068.93,541.11 L1072.22,539.68 L1075.52,538.25 L1078.81,536.80 L1082.10,535.35 L1082.10,541.35 L1078.81,542.80 L1075.52,544.25 L1072.22,545.68 L1068.93,547.11 L1065.64,548.53 L1062.35,549.94 L1059.05,551.34 L1055.76,552.73 L1052.47,554.11 L1049.18,555.48 L1045.88,556.85 L1042.59,558.20 L1039.30,559.55Z M1095.40,529.38 L1098.45,527.99 L1101.51,526.59 L1104.56,525.18 L1107.62,523.76 L1110.67,522.34 L1113.72,520.90 L1116.78,519.46 L1119.83,518.01 L1122.88,516.54 L1125.94,515.07 L1128.99,513.59 L1132.05,512.10 L1135.10,510.61 L1135.10,516.61 L1132.05,518.10 L1128.99,519.59 L1125.94,521.07 L1122.88,522.54 L1119.83,524.01 L1116.78,525.46 L1113.72,526.90 L1110.67,528.34 L1107.62,529.76 L1104.56,531.18 L1101.51,532.59 L1098.45,533.99 L1095.40,535.38Z M1151.60,502.35 L1154.85,500.69 L1158.11,499.01 L1161.36,497.33 L1164.62,495.63 L1167.87,493.92 L1171.12,492.20 L1174.38,490.47 L1177.63,488.73 L1180.88,486.97 L1184.14,485.20 L1187.39,483.42 L1190.65,481.63 L1193.90,479.82 L1193.90,485.82 L1190.65,487.63 L1187.39,489.42 L1184.14,491.20 L1180.88,492.97 L1177.63,494.73 L1174.38,496.47 L1171.12,498.20 L1167.87,499.92 L1164.62,501.63 L1161.36,503.33 L1158.11,505.01 L1154.85,506.69 L1151.60,508.35Z M1207.70,472.02 L1210.45,470.44 L1213.21,468.84 L1215.96,467.24 L1218.72,465.62 L1221.47,464.00 L1224.22,462.36 L1226.98,460.72 L1229.73,459.06 L1232.48,457.40 L1235.24,455.72 L1237.99,454.03 L1240.75,452.34 L1243.50,450.63 L1243.50,456.63 L1240.75,458.34 L1237.99,460.03 L1235.24,461.72 L1232.48,463.40 L1229.73,465.06 L1226.98,466.72 L1224.22,468.36 L1221.47,470.00 L1218.72,471.62 L1215.96,473.24 L1213.21,474.84 L1210.45,476.44 L1207.70,478.02Z M1257.30,441.91 L1260.34,439.95 L1263.38,437.97 L1266.42,435.99 L1269.45,433.99 L1272.49,431.97 L1275.53,429.94 L1278.57,427.90 L1281.61,425.84 L1284.65,423.76 L1287.68,421.67 L1290.72,419.57 L1293.76,417.45 L1296.80,415.31 L1296.80,421.31 L1293.76,423.45 L1290.72,425.57 L1287.68,427.67 L1284.65,429.76 L1281.61,431.84 L1278.57,433.90 L1275.53,435.94 L1272.49,437.97 L1269.45,439.99 L1266.42,441.99 L1263.38,443.97 L1260.34,445.95 L1257.30,447.91Z M1310.60,405.40 L1313.15,403.54 L1315.69,401.66 L1318.24,399.77 L1320.78,397.87 L1323.33,395.96 L1325.88,394.03 L1328.42,392.10 L1330.97,390.15 L1333.52,388.18 L1336.06,386.21 L1338.61,384.22 L1341.15,382.22 L1343.70,380.20 L1343.70,386.20 L1341.15,388.22 L1338.61,390.22 L1336.06,392.21 L1333.52,394.18 L1330.97,396.15 L1328.42,398.10 L1325.88,400.03 L1323.33,401.96 L1320.78,403.87 L1318.24,405.77 L1315.69,407.66 L1313.15,409.54 L1310.60,411.40Z" fill="#00f"/>
<path d="M218.4,758.2h6v6h-6zM239.5,755.8h6v6h-6zM260.5,753.3h6v6h-6zM281.6,750.8h6v6h-6zM302.6,748.2h6v6h-6zM323.7,745.5h6v6h-6zM344.7,742.8h6v6h-6zM365.8,740.1h6v6h-6zM386.9,737.2h6v6h-6zM407.9,734.3h6v6h-6zM429.0,731.4h6v6h-6zM450.0,728.4h6v6h-6zM471.0,725.3h6v6h-6zM492.0,722.1h6v6h-6zM513.1,718.9h6v6h-6zM534.1,715.6h6v6h-6zM555.0,712.2h6v6h-6zM576.0,708.8h6v6h-6zM596.9,705.2h6v6h-6zM617.9,701.6h6v6h-6zM638.8,697.9h6v6h-6zM659.6,694.1h6v6h-6zM680.5,690.1h6v6h-6zM701.3,686.1h6v6h-6zM722.1,682.0h6v6h-6zM742.9,677.8h6v6h-6zM763.6,673.5h6v6h-6zM784.4,669.1h6v6h-6zM805.0,664.5h6v6h-6zM825.7,659.9h6v6h-6zM846.3,655.1h6v6h-6zM866.8,650.1h6v6h-6zM887.4,645.1h6v6h-6zM907.8,639.9h6v6h-6zM928.3,634.5h6v6h-6zM948.7,629.0h6v6h-6zM969.0,623.4h6v6h-6zM989.3,617.5h6v6h-6zM1009.6,611.6h6v6h-6zM1029.8,605.4h6v6h-6zM1049.9,599.0h6v6h-6zM1070.0,592.5h6v6h-6zM1090.0,585.7h6v6h-6zM1110.0,578.8h6v6h-6zM1129.9,571.6h6v6h-6zM1149.8,564.2h6v6h-6zM1169.6,556.5h6v6h-6zM1189.3,548.6h6v6h-6zM1209.0,540.5h6v6h-6zM1228.6,532.0h6v6h-6zM1248.1,523.3h6v6h-6zM1267.5,514.3h6v6h-6zM1286.9,504.9h6v6h-6zM1306.2,495.2h6v6h-6zM1325.5,485.2h6v6h-6z" fill="#0f0"/>
<rect x="217" y="35" width="3" height="948" fill="#000"/>
<rect x="204" y="967" width="1143" height="3" fill="#000"/>
<rect x="204" y="967.0" width="14" height="3" fill="#000"/>
<rect x="204" y="850.0" width="14" height="3" fill="#000"/>
<rect x="204" y="735.5" width="14" height="3" fill="#000"/>
<rect x="204" y="618.0" width="14" height="3" fill="#000"/>
<rect x="204" y="501.0" width="14" height="3" fill="#000"/>
<rect x="204" y="383.5" width="14" height="3" fill="#000"/>
<rect x="204" y="269.5" width="14" height="3" fill="#000"/>
<rect x="204" y="152.0" width="14" height="3" fill="#000"/>
<rect x="204" y="35.0" width="14" height="3" fill="#000"/>
<rect x="217.0" y="968" width="3" height="15" fill="#000"/>
<rect x="497.1" y="968" width="3" height="15" fill="#000"/>
<rect x="780.6" y="968" width="3" height="15" fill="#000"/>
<rect x="1060.8" y="968" width="3" height="15" fill="#000"/>
<rect x="1344.0" y="968" width="3" height="15" fill="#000"/>
<rect x="273.4" y="968" width="3" height="8.5" fill="#000"/>
<rect x="329.7" y="968" width="3" height="8.5" fill="#000"/>
<rect x="386.1" y="968" width="3" height="8.5" fill="#000"/>
<rect x="442.4" y="968" width="3" height="8.5" fill="#000"/>
<rect x="555.1" y="968" width="3" height="8.5" fill="#000"/>
<rect x="611.5" y="968" width="3" height="8.5" fill="#000"/>
<rect x="667.8" y="968" width="3" height="8.5" fill="#000"/>
<rect x="724.2" y="968" width="3" height="8.5" fill="#000"/>
<rect x="836.9" y="968" width="3" height="8.5" fill="#000"/>
<rect x="893.2" y="968" width="3" height="8.5" fill="#000"/>
<rect x="949.6" y="968" width="3" height="8.5" fill="#000"/>
<rect x="1005.9" y="968" width="3" height="8.5" fill="#000"/>
<rect x="1118.6" y="968" width="3" height="8.5" fill="#000"/>
<rect x="1175.0" y="968" width="3" height="8.5" fill="#000"/>
<rect x="1231.3" y="968" width="3" height="8.5" fill="#000"/>
<rect x="1287.7" y="968" width="3" height="8.5" fill="#000"/>
<text transform="translate(195.5,982.9) scale(1,1.03)" font-family="Liberation Serif" font-size="41.4" text-anchor="end" fill="#111">0</text>
<text transform="translate(195.5,865.6) scale(1,1.03)" font-family="Liberation Serif" font-size="41.4" text-anchor="end" fill="#111">1000</text>
<text transform="translate(195.5,748.1) scale(1,1.03)" font-family="Liberation Serif" font-size="41.4" text-anchor="end" fill="#111">2000</text>
<text transform="translate(195.5,630.9) scale(1,1.03)" font-family="Liberation Serif" font-size="41.4" text-anchor="end" fill="#111">3000</text>
<text transform="translate(195.5,516.8) scale(1,1.03)" font-family="Liberation Serif" font-size="41.4" text-anchor="end" fill="#111">4000</text>
<text transform="translate(195.5,399.6) scale(1,1.03)" font-family="Liberation Serif" font-size="41.4" text-anchor="end" fill="#111">5000</text>
<text transform="translate(195.5,282.1) scale(1,1.03)" font-family="Liberation Serif" font-size="41.4" text-anchor="end" fill="#111">6000</text>
<text transform="translate(195.5,164.8) scale(1,1.03)" font-family="Liberation Serif" font-size="41.4" text-anchor="end" fill="#111">7000</text>
<text transform="translate(195.5,50.6) scale(1,1.03)" font-family="Liberation Serif" font-size="41.4" text-anchor="end" fill="#111">8000</text>
<text transform="translate(216.9,1023.9) scale(1,1.03)" font-family="Liberation Serif" font-size="41.5" text-anchor="middle" fill="#111">0</text>
<text transform="translate(497.2,1023.9) scale(1,1.03)" font-family="Liberation Serif" font-size="41.5" text-anchor="middle" fill="#111">0.5</text>
<text transform="translate(777.5,1023.9) scale(1,1.03)" font-family="Liberation Serif" font-size="41.5" text-anchor="middle" fill="#111">1</text>
<text transform="translate(1062.3,1023.9) scale(1,1.03)" font-family="Liberation Serif" font-size="41.5" text-anchor="middle" fill="#111">1.5</text>
<text transform="translate(1340.6,1023.9) scale(1,1.03)" font-family="Liberation Serif" font-size="41.5" text-anchor="middle" fill="#111">2</text>
<rect x="30.0" y="488.0" width="3" height="3" fill="#c800b4" fill-opacity="0.7"/>
<rect x="33.0" y="488.0" width="3" height="3" fill="#c800b4" fill-opacity="1"/>
<rect x="36.0" y="488.0" width="3" height="3" fill="#c800b4" fill-opacity="1"/>
<rect x="39.0" y="488.0" width="3" height="3" fill="#c800b4" fill-opacity="1"/>
<rect x="42.0" y="488.0" width="3" height="3" fill="#c800b4" fill-opacity="1"/>
<rect x="45.0" y="488.0" width="3" height="3" fill="#c800b4" fill-opacity="1"/>
<rect x="48.0" y="488.0" width="3" height="3" fill="#c800b4" fill-opacity="1"/>
<rect x="33.0" y="491.0" width="3" height="3" fill="#c800b4" fill-opacity="0.45"/>
<rect x="36.0" y="491.0" width="3" height="3" fill="#c800b4" fill-opacity="0.3"/>
<rect x="42.0" y="491.0" width="3" height="3" fill="#c800b4" fill-opacity="0.65"/>
<rect x="33.0" y="494.0" width="3" height="3" fill="#c800b4" fill-opacity="0.5"/>
<rect x="36.0" y="494.0" width="3" height="3" fill="#c800b4" fill-opacity="0.3"/>
<rect x="42.0" y="494.0" width="3" height="3" fill="#c800b4" fill-opacity="0.75"/>
<rect x="33.0" y="497.0" width="3" height="3" fill="#c800b4" fill-opacity="0.65"/>
<rect x="36.0" y="497.0" width="3" height="3" fill="#c800b4" fill-opacity="0.1"/>
<rect x="42.0" y="497.0" width="3" height="3" fill="#c800b4" fill-opacity="1"/>
<rect x="33.0" y="500.0" width="3" height="3" fill="#c800b4" fill-opacity="0.65"/>
<rect x="36.0" y="500.0" width="3" height="3" fill="#c800b4" fill-opacity="0.1"/>
<rect x="42.0" y="500.0" width="3" height="3" fill="#c800b4" fill-opacity="1"/>
<rect x="30.0" y="503.0" width="3" height="3" fill="#c800b4" fill-opacity="0.3"/>
<rect x="33.0" y="503.0" width="3" height="3" fill="#c800b4" fill-opacity="1"/>
<rect x="42.0" y="503.0" width="3" height="3" fill="#c800b4" fill-opacity="1"/>
<rect x="48.0" y="503.0" width="3" height="3" fill="#c800b4" fill-opacity="0.3"/>
<rect x="30.0" y="506.0" width="3" height="3" fill="#c800b4" fill-opacity="0.8"/>
<rect x="33.0" y="506.0" width="3" height="3" fill="#c800b4" fill-opacity="0.85"/>
<rect x="42.0" y="506.0" width="3" height="3" fill="#c800b4" fill-opacity="0.45"/>
<rect x="45.0" y="506.0" width="3" height="3" fill="#c800b4" fill-opacity="1"/>
<rect x="48.0" y="506.0" width="3" height="3" fill="#c800b4" fill-opacity="0.55"/>
<rect x="27" y="491" width="3" height="6" fill="#c800b4" fill-opacity="0.2"/>
<rect x="55.0" y="520.0" width="3" height="3" fill="#c800b4" fill-opacity="0.6"/>
<rect x="58.0" y="520.0" width="3" height="3" fill="#c800b4" fill-opacity="1"/>
<rect x="61.0" y="520.0" width="3" height="3" fill="#c800b4" fill-opacity="1"/>
<rect x="64.0" y="520.0" width="3" height="3" fill="#c800b4" fill-opacity="0.7"/>
<rect x="55.0" y="523.0" width="3" height="3" fill="#c800b4" fill-opacity="1"/>
<rect x="55.0" y="526.0" width="3" height="3" fill="#c800b4" fill-opacity="0.1"/>
<rect x="58.0" y="526.0" width="3" height="3" fill="#c800b4" fill-opacity="1"/>
<rect x="61.0" y="526.0" width="3" height="3" fill="#c800b4" fill-opacity="1"/>
<rect x="64.0" y="526.0" width="3" height="3" fill="#c800b4" fill-opacity="0.1"/>
<rect x="55.0" y="529.0" width="3" height="3" fill="#c800b4" fill-opacity="0.3"/>
<rect x="64.0" y="529.0" width="3" height="3" fill="#c800b4" fill-opacity="1"/>
<rect x="55.0" y="532.0" width="3" height="3" fill="#c800b4" fill-opacity="0.8"/>
<rect x="58.0" y="532.0" width="3" height="3" fill="#c800b4" fill-opacity="1"/>
<rect x="61.0" y="532.0" width="3" height="3" fill="#c800b4" fill-opacity="1"/>
<rect x="64.0" y="532.0" width="3" height="3" fill="#c800b4" fill-opacity="0.5"/>
<rect x="74.0" y="520.0" width="3" height="3" fill="#c800b4" fill-opacity="0.2"/>
<rect x="77.0" y="520.0" width="3" height="3" fill="#c800b4" fill-opacity="1"/>
<rect x="80.0" y="520.0" width="3" height="3" fill="#c800b4" fill-opacity="1"/>
<rect x="83.0" y="520.0" width="3" height="3" fill="#c800b4" fill-opacity="0.6"/>
<rect x="74.0" y="523.0" width="3" height="3" fill="#c800b4" fill-opacity="0.9"/>
<rect x="83.0" y="523.0" width="3" height="3" fill="#c800b4" fill-opacity="0.9"/>
<rect x="74.0" y="526.0" width="3" height="3" fill="#c800b4" fill-opacity="1"/>
<rect x="74.0" y="529.0" width="3" height="3" fill="#c800b4" fill-opacity="0.9"/>
<rect x="83.0" y="529.0" width="3" height="3" fill="#c800b4" fill-opacity="0.3"/>
<rect x="74.0" y="532.0" width="3" height="3" fill="#c800b4" fill-opacity="0.2"/>
<rect x="77.0" y="532.0" width="3" height="3" fill="#c800b4" fill-opacity="1"/>
<rect x="80.0" y="532.0" width="3" height="3" fill="#c800b4" fill-opacity="1"/>
<rect x="83.0" y="532.0" width="3" height="3" fill="#c800b4" fill-opacity="0.4"/>
<rect x="762.0" y="1072.0" width="3" height="3" fill="#000" fill-opacity="0.4"/>
<rect x="765.0" y="1072.0" width="3" height="3" fill="#000" fill-opacity="1"/>
<rect x="768.0" y="1072.0" width="3" height="3" fill="#000" fill-opacity="1"/>
<rect x="771.0" y="1072.0" width="3" height="3" fill="#000" fill-opacity="1"/>
<rect x="774.0" y="1072.0" width="3" height="3" fill="#000" fill-opacity="0.95"/>
<rect x="777.0" y="1072.0" width="3" height="3" fill="#000" fill-opacity="0.3"/>
<rect x="759.0" y="1075.0" width="3" height="3" fill="#000" fill-opacity="0.15"/>
<rect x="762.0" y="1075.0" width="3" height="3" fill="#000" fill-opacity="0.6"/>
<rect x="768.0" y="1075.0" width="3" height="3" fill="#000" fill-opacity="0.75"/>
<rect x="771.0" y="1075.0" width="3" height="3" fill="#000" fill-opacity="0.25"/>
<rect x="759.0" y="1078.0" width="3" height="3" fill="#000" fill-opacity="0.1"/>
<rect x="762.0" y="1078.0" width="3" height="3" fill="#000" fill-opacity="0.1"/>
<rect x="765.0" y="1078.0" width="3" height="3" fill="#000" fill-opacity="0.1"/>
<rect x="768.0" y="1078.0" width="3" height="3" fill="#000" fill-opacity="0.8"/>
<rect x="771.0" y="1078.0" width="3" height="3" fill="#000" fill-opacity="0.25"/>
<rect x="765.0" y="1081.0" width="3" height="3" fill="#000" fill-opacity="0.15"/>
<rect x="768.0" y="1081.0" width="3" height="3" fill="#000" fill-opacity="0.95"/>
<rect x="771.0" y="1081.0" width="3" height="3" fill="#000" fill-opacity="0.2"/>
<rect x="765.0" y="1084.0" width="3" height="3" fill="#000" fill-opacity="0.15"/>
<rect x="768.0" y="1084.0" width="3" height="3" fill="#000" fill-opacity="0.95"/>
<rect x="771.0" y="1084.0" width="3" height="3" fill="#000" fill-opacity="0.3"/>
<rect x="774.0" y="1084.0" width="3" height="3" fill="#000" fill-opacity="0.2"/>
<rect x="768.0" y="1087.0" width="3" height="3" fill="#000" fill-opacity="0.6"/>
<rect x="771.0" y="1087.0" width="3" height="3" fill="#000" fill-opacity="1"/>
<rect x="774.0" y="1087.0" width="3" height="3" fill="#000" fill-opacity="0.6"/>
<text transform="translate(776.5,1068.5) scale(1,1.05)" font-family="Liberation Serif" font-size="41.5" fill="#111">2</text>
<rect x="756" y="1103.2" width="50" height="3.3" fill="#000"/>
<text transform="translate(766.5,1144.5) scale(1.12,1.05)" font-family="Liberation Serif" font-style="italic" font-size="40" fill="#111">h</text>
<rect x="271.5" y="1171.5" width="822" height="63" fill="none" stroke="#000" stroke-width="3"/>
<rect x="282" y="1198" width="106" height="6.5" fill="#f00"/>
<rect x="512.7" y="1198.3" width="47" height="6.5" fill="#00f"/>
<rect x="575" y="1198.3" width="44" height="6.5" fill="#00f"/>
<rect x="746.1" y="1198.3" width="6.5" height="6.5" fill="#0f0"/>
<rect x="768.2" y="1198.3" width="6.5" height="6.5" fill="#0f0"/>
<rect x="790.0" y="1198.3" width="6.5" height="6.5" fill="#0f0"/>
<rect x="811.7" y="1198.3" width="6.5" height="6.5" fill="#0f0"/>
<rect x="833.4" y="1198.3" width="6.5" height="6.5" fill="#0f0"/>
<text x="403" y="1220.5" font-family="Liberation Serif" font-size="47.5" fill="#111">CDS</text>
<text x="633" y="1220.5" font-family="Liberation Serif" font-size="47.5" fill="#111">DDS</text>
<text x="866" y="1220.5" font-family="Liberation Serif" font-size="47.5" fill="#111">DDS-MLA</text>
</svg>
</body></html>
